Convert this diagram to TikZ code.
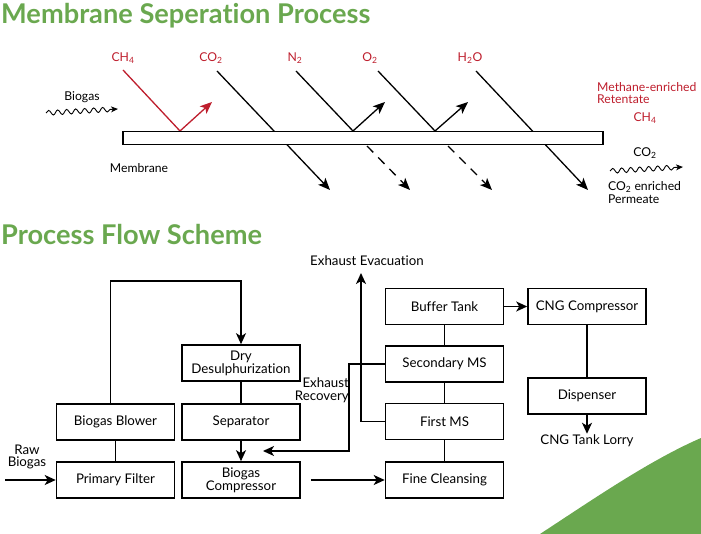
\documentclass[tikz,border=0pt]{standalone}
\usepackage{fontspec}
\setmainfont{Lato}[Ligatures=NoCommon]
\usetikzlibrary{arrows.meta,decorations.pathmorphing,positioning}
\definecolor{leafgreen}{RGB}{106,168,79}
\definecolor{gasred}{RGB}{190,30,45}
\tikzset
{
  box/.style      = {draw=black, line width=1.6pt, minimum width=118pt, minimum height=36pt, align=center, inner sep=1pt, font=\fontsize{13.3}{12}\selectfont},
  flowtext/.style = {inner sep=1pt, font=\fontsize{13.3}{12.5}\selectfont},
  note/.style     = {inner sep=1pt, font=\fontsize{12.2}{12}\selectfont},
  heading/.style  = {anchor=west, inner sep=0pt, text=leafgreen, font=\fontsize{27.2}{28}\selectfont\bfseries},
  flow/.style     = {line width=1.6pt, -{Stealth[length=11pt,width=10pt,inset=3pt]}},
  link/.style     = {line width=1.6pt},
  gas/.style      = {line width=1.3pt},
  gastip/.style   = {-{Stealth[length=12pt,width=10pt,inset=3pt]}},
  wave/.style     = {line width=0.9pt, decorate, decoration={snake, amplitude=2.4pt, segment length=9pt, post length=6pt}, -{Stealth[length=7pt,width=6pt,inset=2pt]}}
}
\begin{document}
\begin{tikzpicture}[x=1pt,y=-1pt]
\useasboundingbox (0,0) rectangle (701,534);
\fill[leafgreen] (540,534) .. controls (592,500) and (650,460) .. (701,438) -- (701,534) -- cycle;

\node[heading] (title1) at (1,16) {Membrane Seperation Process};
\node[heading] (title2) at (1,235) {Process Flow Scheme};

% membrane separation
\node[note, text=gasred] (ch4) at (123,58) {CH\textsubscript{4}};
\node[note, text=gasred] (co2) at (211,58) {CO\textsubscript{2}};
\node[note, text=gasred] (n2) at (295,58) {N\textsubscript{2}};
\node[note, text=gasred] (o2) at (370,58) {O\textsubscript{2}};
\node[note, text=gasred] (h2o) at (470,58) {H\textsubscript{2}O};

\coordinate (ch4top) at (123,70);
\coordinate (ch4hit) at (180,131);
\coordinate (ch4out) at (212,102);
\coordinate (co2top) at (217,71);
\coordinate (co2end) at (330,190);
\coordinate (n2top) at (296,71);
\coordinate (n2hit) at (353,131);
\coordinate (n2out) at (385,102);
\coordinate (n2dash) at (367,146);
\coordinate (n2end) at (410,190);
\coordinate (o2top) at (378,71);
\coordinate (o2hit) at (435,131);
\coordinate (o2out) at (468,102);
\coordinate (o2dash) at (448,146);
\coordinate (o2end) at (492,190);
\coordinate (h2otop) at (476,71);
\coordinate (h2oend) at (588,190);

\draw[gas, gasred] (ch4top) -- (ch4hit);
\draw[gas, gastip, gasred] (ch4hit) -- (ch4out);
\draw[gas, gastip] (co2top) -- (co2end);
\draw[gas] (n2top) -- (n2hit);
\draw[gas, gastip] (n2hit) -- (n2out);
\draw[gas, gastip, dash pattern=on 9pt off 7pt] (n2dash) -- (n2end);
\draw[gas] (o2top) -- (o2hit);
\draw[gas, gastip] (o2hit) -- (o2out);
\draw[gas, gastip, dash pattern=on 9pt off 7pt] (o2dash) -- (o2end);
\draw[gas, gastip] (h2otop) -- (h2oend);

\node[draw, line width=1.5pt, fill=white, minimum width=480pt, minimum height=13pt, inner sep=0pt] (membrane) at (363,138) {};
\node[note] (memlabel) at (139,168) {Membrane};

\node[note] (biogas) at (82,97) {Biogas};
\coordinate (biogasin) at (46,113);
\coordinate (biogasend) at (118,109);
\draw[wave] (biogasin) -- (biogasend);

\node[note, text=gasred, align=left, anchor=north west] (retentate) at (596,81) {Methane-enriched\\Retentate};
\node[note, text=gasred] (ch4ret) at (645,118) {CH\textsubscript{4}};
\node[note] (co2perm) at (645,153) {CO\textsubscript{2}};
\coordinate (permin) at (610,171);
\coordinate (permend) at (683,167);
\draw[wave] (permin) -- (permend);
\node[note, align=left, anchor=north west, font=\fontsize{12.2}{13}\selectfont] (permeate) at (607,180) {CO\textsubscript{2} enriched\\Permeate};

% process flow
\node[box] (dry) at (241,363) {Dry\\Desulphurization};
\node[box] (blower) at (115.5,422) {Biogas Blower};
\node[box] (separator) at (241,422) {Separator};
\node[box] (filter) at (115.5,480) {Primary Filter};
\node[box] (compressor) at (241,480) {Biogas\\Compressor};
\node[box] (buffer) at (444.5,306.5) {Buffer Tank};
\node[box] (secondms) at (444.5,364) {Secondary MS};
\node[box] (firstms) at (444.5,421.5) {First MS};
\node[box] (cleansing) at (444.5,480) {Fine Cleansing};
\node[box] (cngcomp) at (587,306.5) {CNG Compressor};
\node[box] (dispenser) at (587,396) {Dispenser};

\node[flowtext] (lorry) at (587,441) {CNG Tank Lorry};
\node[flowtext] (evac) at (367,261) {Exhaust Evacuation};
\node[flowtext, align=right, anchor=east] (recovery) at (350,390) {Exhaust\\Recovery};
\node[flowtext, align=center] (raw) at (27,457) {Raw\\Biogas};

\coordinate (rawin) at (5,480);
\coordinate (evacend) at (361,273);
\coordinate (recend) at (263,451);

\draw[flow] ([xshift=-5pt]blower.north) -- ++(0,-122) -| (dry.north);
\draw[link] (blower) -- (filter);
\draw[link] (dry) -- (separator);
\draw[flow] (separator) -- (compressor);
\draw[flow] (rawin) -- (filter);
\draw[flow] ([xshift=10pt]compressor.east) -- (cleansing);
\draw[link] (buffer) -- (secondms);
\draw[link] (secondms) -- (firstms);
\draw[link] (firstms) -- (cleansing);
\draw[flow] (buffer) -- (cngcomp);
\draw[link] (cngcomp) -- (dispenser);
\draw[flow] (dispenser) -- (lorry);
\draw[flow] (firstms.west) -| (evacend);
\draw[flow] (secondms.west) -- ++(-36,0) |- (recend);
\end{tikzpicture}
\end{document}
